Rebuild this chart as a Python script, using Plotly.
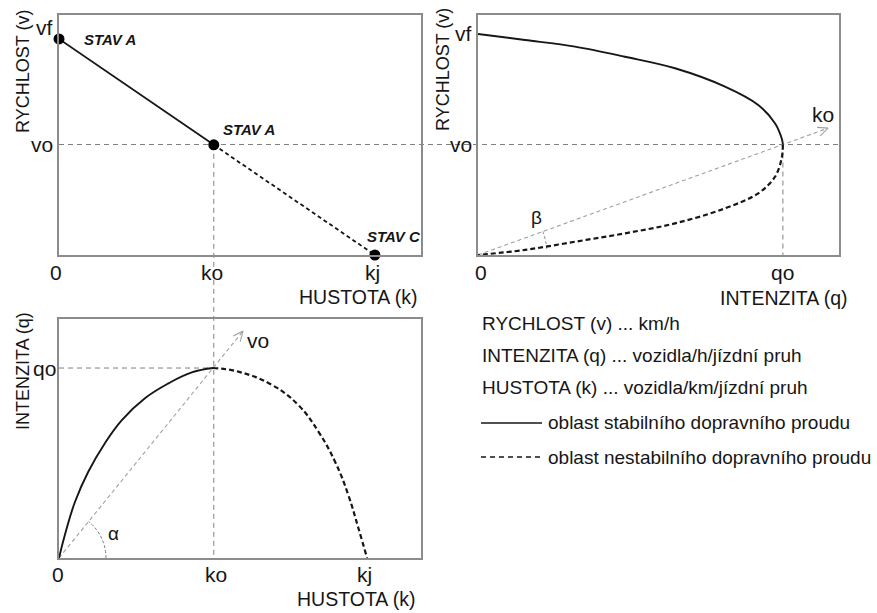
import numpy as np
import plotly.graph_objects as go

W, H = 877, 613

# ---------------- data (normalised units) ----------------
VF = 1.0          # free-flow speed
KJ = 1.0          # jam density
QO = 1.0          # capacity flow
KO_TL = 0.49      # optimal density (speed-density panel)
VO_TL = 0.51      # optimal speed (speed-density panel)
VO_TR = 0.50      # optimal speed (speed-flow panel)
KO_BL = 0.50      # optimal density (flow-density panel)

# speed-density (top left)
tl_stable_k = [0.0, KO_TL]
tl_stable_v = [VF, VO_TL]
tl_unstable_k = [KO_TL, KJ]
tl_unstable_v = [VO_TL, 0.0]
state_k = [0.0, KO_TL, KJ]
state_v = [VF, VO_TL, 0.0]
state_labels = ["STAV A", "STAV A", "STAV C"]

# speed-flow (top right)
tr_stable_q = [0.0, 0.154, 0.318, 0.482, 0.646, 0.810, 0.919, 0.974, 0.996, 1.0]
tr_stable_v = [1.0, 0.973, 0.943, 0.897, 0.845, 0.762, 0.679, 0.596, 0.528, 0.50]
tr_unstable_q = [1.0, 0.996, 0.974, 0.919, 0.810, 0.646, 0.482, 0.318, 0.154, 0.0]
tr_unstable_v = [0.50, 0.438, 0.354, 0.279, 0.211, 0.143, 0.098, 0.060, 0.023, 0.0]

# flow-density (bottom left)
bl_stable_k = [0.0, 0.019, 0.052, 0.095, 0.149, 0.204, 0.279, 0.355, 0.431, 0.50]
bl_stable_q = [0.0, 0.121, 0.296, 0.454, 0.604, 0.726, 0.841, 0.919, 0.977, 1.0]
bl_unstable_k = [0.50, 0.582, 0.691, 0.777, 0.842, 0.896, 0.939, 0.972, 1.0]
bl_unstable_q = [1.0, 0.981, 0.911, 0.805, 0.665, 0.507, 0.332, 0.156, 0.0]

# rays (how far past the optimum point the arrow runs)
RAY_TR_EXT = 1.148
RAY_BL_EXT = 1.195

# tick labels
tl_xtick_text = ["0", "ko", "kj"]
tl_ytick_text = ["vo", "vf"]
tr_xtick_text = ["0", "qo"]
tr_ytick_text = ["vo", "vf"]
bl_xtick_text = ["0", "ko", "kj"]
bl_ytick_text = ["qo"]

legend_lines = [
    "RYCHLOST (v) ... km/h",
    "INTENZITA (q) ... vozidla/h/jízdní pruh",
    "HUSTOTA (k) ... vozidla/km/jízdní pruh",
]
legend_stable = "oblast stabilního dopravního proudu"
legend_unstable = "oblast nestabilního dopravního proudu"

# ---------------- layout geometry ----------------
PANELS = {
    "tl": dict(ax=("x", "y"), xpx=(59, 421), ypx=(255, 15), xr=(0, 1.146), yr=(0, 1.111)),
    "tr": dict(ax=("x2", "y2"), xpx=(478, 839), ypx=(255, 15), xr=(0, 1.184), yr=(0, 1.086)),
    "bl": dict(ax=("x3", "y3"), xpx=(59, 421), ypx=(558, 319), xr=(0, 1.175), yr=(0, 1.258)),
}


def ppu(p):
    P = PANELS[p]
    return ((P["xpx"][1] - P["xpx"][0]) / (P["xr"][1] - P["xr"][0]),
            (P["ypx"][0] - P["ypx"][1]) / (P["yr"][1] - P["yr"][0]))


def to_px(p, xv, yv):
    P = PANELS[p]
    sx, sy = ppu(p)
    return P["xpx"][0] + (xv - P["xr"][0]) * sx, P["ypx"][0] - (yv - P["yr"][0]) * sy


FONT = "Liberation Sans, Arial, sans-serif"
BLACK = "#161616"
GREY = "#808080"
LIGHT = "#a0a0a0"

fig = go.Figure()


def line(p, xs, ys, color=BLACK, width=1.8, dash="solid", smooth=1.0):
    xa, ya = PANELS[p]["ax"]
    fig.add_trace(go.Scatter(x=xs, y=ys, xaxis=xa, yaxis=ya, mode="lines",
                             line=dict(color=color, width=width, dash=dash, shape="spline", smoothing=smooth),
                             hoverinfo="skip", showlegend=False))


def chevron(p, tx, ty, L=11, ang=24):
    sx, sy = ppu(p)
    X, Y = tx * sx, ty * sy
    n = np.hypot(X, Y)
    dx, dy = X / n, Y / n
    xs, ys = [], []
    for s in (1, -1):
        a = np.radians(ang) * s
        rx = dx * np.cos(a) - dy * np.sin(a)
        ry = dx * np.sin(a) + dy * np.cos(a)
        xs.append((X - L * rx) / sx)
        ys.append((Y - L * ry) / sy)
    fig.add_trace(go.Scatter(x=[xs[0], tx, xs[1]], y=[ys[0], ty, ys[1]],
                             xaxis=PANELS[p]["ax"][0], yaxis=PANELS[p]["ax"][1], mode="lines",
                             line=dict(color=LIGHT, width=1.1), hoverinfo="skip", showlegend=False))


def arc(p, r, a0, a1):
    sx, sy = ppu(p)
    th = np.radians(np.linspace(a0, a1, 20))
    line(p, list(r * np.cos(th) / sx), list(r * np.sin(th) / sy), color=GREY, width=1, dash="3px,2px")


# ---- reference (grey dashed) lines ----
shapes = []
GDASH = "5px,4px"
# vo across both upper panels
x0p, _ = to_px("tl", 0, 0)
x1p, _ = to_px("tr", PANELS["tr"]["xr"][1], 0)
_, yvo = to_px("tr", 0, VO_TR)
shapes.append(dict(type="line", xref="paper", yref="paper", x0=x0p / W, x1=x1p / W,
                   y0=1 - yvo / H, y1=1 - yvo / H, line=dict(color=GREY, width=1, dash=GDASH), layer="below"))
# ko from the upper panel down to the lower one
xko, yv = to_px("tl", KO_TL, VO_TL)
_, yb = to_px("bl", KO_BL, 0)
shapes.append(dict(type="line", xref="paper", yref="paper", x0=xko / W, x1=xko / W,
                   y0=1 - yv / H, y1=1 - yb / H, line=dict(color=GREY, width=1, dash=GDASH), layer="below"))
# qo vertical (top right)
shapes.append(dict(type="line", xref="x2", yref="y2", x0=QO, x1=QO, y0=VO_TR, y1=0,
                   line=dict(color=GREY, width=1, dash=GDASH), layer="below"))
# qo horizontal (bottom left)
shapes.append(dict(type="line", xref="x3", yref="y3", x0=0, x1=KO_BL, y0=QO, y1=QO,
                   line=dict(color=GREY, width=1, dash=GDASH), layer="below"))

# ---- rays with arrows ----
line("tr", [0, QO * RAY_TR_EXT], [0, VO_TR * RAY_TR_EXT], color=LIGHT, width=1.1, dash="4px,3px")
chevron("tr", QO * RAY_TR_EXT, VO_TR * RAY_TR_EXT)
line("bl", [0, KO_BL * RAY_BL_EXT], [0, QO * RAY_BL_EXT], color=LIGHT, width=1.1, dash="4px,3px")
chevron("bl", KO_BL * RAY_BL_EXT, QO * RAY_BL_EXT)

sxb, syb = ppu("bl")
alpha_ang = np.degrees(np.arctan2(QO * syb, KO_BL * sxb))
arc("bl", 47, 0, alpha_ang)
sxt, syt = ppu("tr")
beta_ang = np.degrees(np.arctan2(VO_TR * syt, QO * sxt))
arc("tr", 69, 5, beta_ang)

# ---- curves ----
line("tl", tl_stable_k, tl_stable_v, width=1.8)
line("tl", tl_unstable_k, tl_unstable_v, width=1.8, dash="4px,3px")
line("tr", tr_stable_q, tr_stable_v, width=1.9)
line("tr", tr_unstable_q, tr_unstable_v, width=2.2, dash="5px,3px")
line("bl", bl_stable_k, bl_stable_q, width=1.9, smooth=1.2)
line("bl", bl_unstable_k, bl_unstable_q, width=2.2, dash="5px,3px", smooth=1.2)

fig.add_trace(go.Scatter(x=state_k, y=state_v, xaxis="x", yaxis="y", mode="markers",
                         marker=dict(color="black", size=11), cliponaxis=False,
                         hoverinfo="skip", showlegend=False))

# ---- annotations ----
ann = []


def text(p, t, x, y, xs=0, ys=0, xa="center", ya="middle", size=21, angle=0, font=FONT, color=BLACK):
    xr_, yr_ = PANELS[p]["ax"]
    ann.append(dict(text=t, xref=xr_, yref=yr_, x=x, y=y, xshift=xs, yshift=ys,
                    xanchor=xa, yanchor=ya, showarrow=False, textangle=angle,
                    font=dict(family=font, size=size, color=color)))


TICK = 21
TITLE = 19.5
VTITLE = 18
# top-left
for t, xv, xs in zip(tl_xtick_text, [0, KO_TL, KJ], [-3, -2, -2]):
    text("tl", t, xv, 0, xs=xs, ys=-17, size=TICK)
for t, yv, ys in zip(tl_ytick_text, [VO_TL, VF], [0, 11]):
    text("tl", t, 0, yv, xs=-4, ys=ys, xa="right", size=TICK)
text("tl", "HUSTOTA (k)", KJ, 0, xs=44, ys=-42, xa="right", size=TITLE)
text("tl", "RYCHLOST (v)", 0, VF, xs=-36, ys=-33, angle=-90, size=VTITLE)
for t, kx, vy, xs, ys in zip(state_labels, state_k, state_v, [23, 7, -10], [-1, 15, 19]):
    text("tl", "<b><i>" + t + "</i></b>", kx, vy, xs=xs, ys=ys, xa="left", size=15)

# top-right
for t, xv, xs in zip(tr_xtick_text, [0, QO], [3, 0]):
    text("tr", t, xv, 0, xs=xs, ys=-17, size=TICK)
for t, yv, ys in zip(tr_ytick_text, [VO_TR, VF], [0, 1]):
    text("tr", t, 0, yv, xs=-4, ys=ys, xa="right", size=TICK)
text("tr", "INTENZITA (q)", QO, 0, xs=66, ys=-43, xa="right", size=TITLE)
text("tr", "RYCHLOST (v)", 0, VF, xs=-35, ys=-36, angle=-90, size=VTITLE)
text("tr", "ko", QO * RAY_TR_EXT, VO_TR * RAY_TR_EXT, xs=-5, ys=14, size=TICK)
text("tr", "β", 0, 0, xs=58, ys=38, size=19)

# bottom-left
for t, xv, xs in zip(bl_xtick_text, [0, KO_BL, KJ], [-1, 3, -3]):
    text("bl", t, xv, 0, xs=xs, ys=-16, size=TICK)
text("bl", bl_ytick_text[0], 0, QO, xs=-1, ys=0, xa="right", size=TICK)
text("bl", "vo", KO_BL * RAY_BL_EXT, QO * RAY_BL_EXT, xs=2, ys=-10, xa="left", size=TICK)
text("bl", "α", 0, 0, xs=54, ys=25, size=19)
text("bl", "HUSTOTA (k)", KJ, 0, xs=50, ys=-41, xa="right", size=TITLE)
text("bl", "INTENZITA (q)", 0, QO, xs=-36, ys=-3, angle=-90, size=VTITLE)

# legend block
LEG = 19
for t, ypx in zip(legend_lines, [323, 355, 387]):
    ann.append(dict(text=t, xref="paper", yref="paper", x=480 / W, y=1 - ypx / H,
                    xanchor="left", yanchor="middle", showarrow=False,
                    font=dict(family=FONT, size=LEG, color=BLACK)))
for t, ypx, dash in [(legend_stable, 423, "solid"), (legend_unstable, 457, "5px,4px")]:
    shapes.append(dict(type="line", xref="paper", yref="paper", x0=481 / W, x1=542 / W,
                       y0=1 - ypx / H, y1=1 - ypx / H, line=dict(color=BLACK, width=1.5, dash=dash)))
    ann.append(dict(text=t, xref="paper", yref="paper", x=546 / W, y=1 - ypx / H,
                    xanchor="left", yanchor="middle", showarrow=False,
                    font=dict(family=FONT, size=LEG, color=BLACK)))


def axis(p, which):
    P = PANELS[p]
    if which == "x":
        dom = [P["xpx"][0] / W, P["xpx"][1] / W]
        rng = list(P["xr"])
        anchor = P["ax"][1]
    else:
        dom = [1 - P["ypx"][0] / H, 1 - P["ypx"][1] / H]
        rng = list(P["yr"])
        anchor = P["ax"][0]
    return dict(domain=dom, range=rng, anchor=anchor, showgrid=False, zeroline=False,
                showticklabels=False, ticks="", showline=True, mirror=True,
                linecolor="#8c8c8c", linewidth=1.5, fixedrange=True)


fig.update_layout(
    width=W, height=H, margin=dict(l=0, r=0, t=0, b=0),
    paper_bgcolor="white", plot_bgcolor="white", showlegend=False,
    xaxis=axis("tl", "x"), yaxis=axis("tl", "y"),
    xaxis2=axis("tr", "x"), yaxis2=axis("tr", "y"),
    xaxis3=axis("bl", "x"), yaxis3=axis("bl", "y"),
    shapes=shapes, annotations=ann,
)

fig.write_html("out.html", config={"displayModeBar": False},
               post_script="document.body.style.margin='0';document.body.style.padding='0';")
